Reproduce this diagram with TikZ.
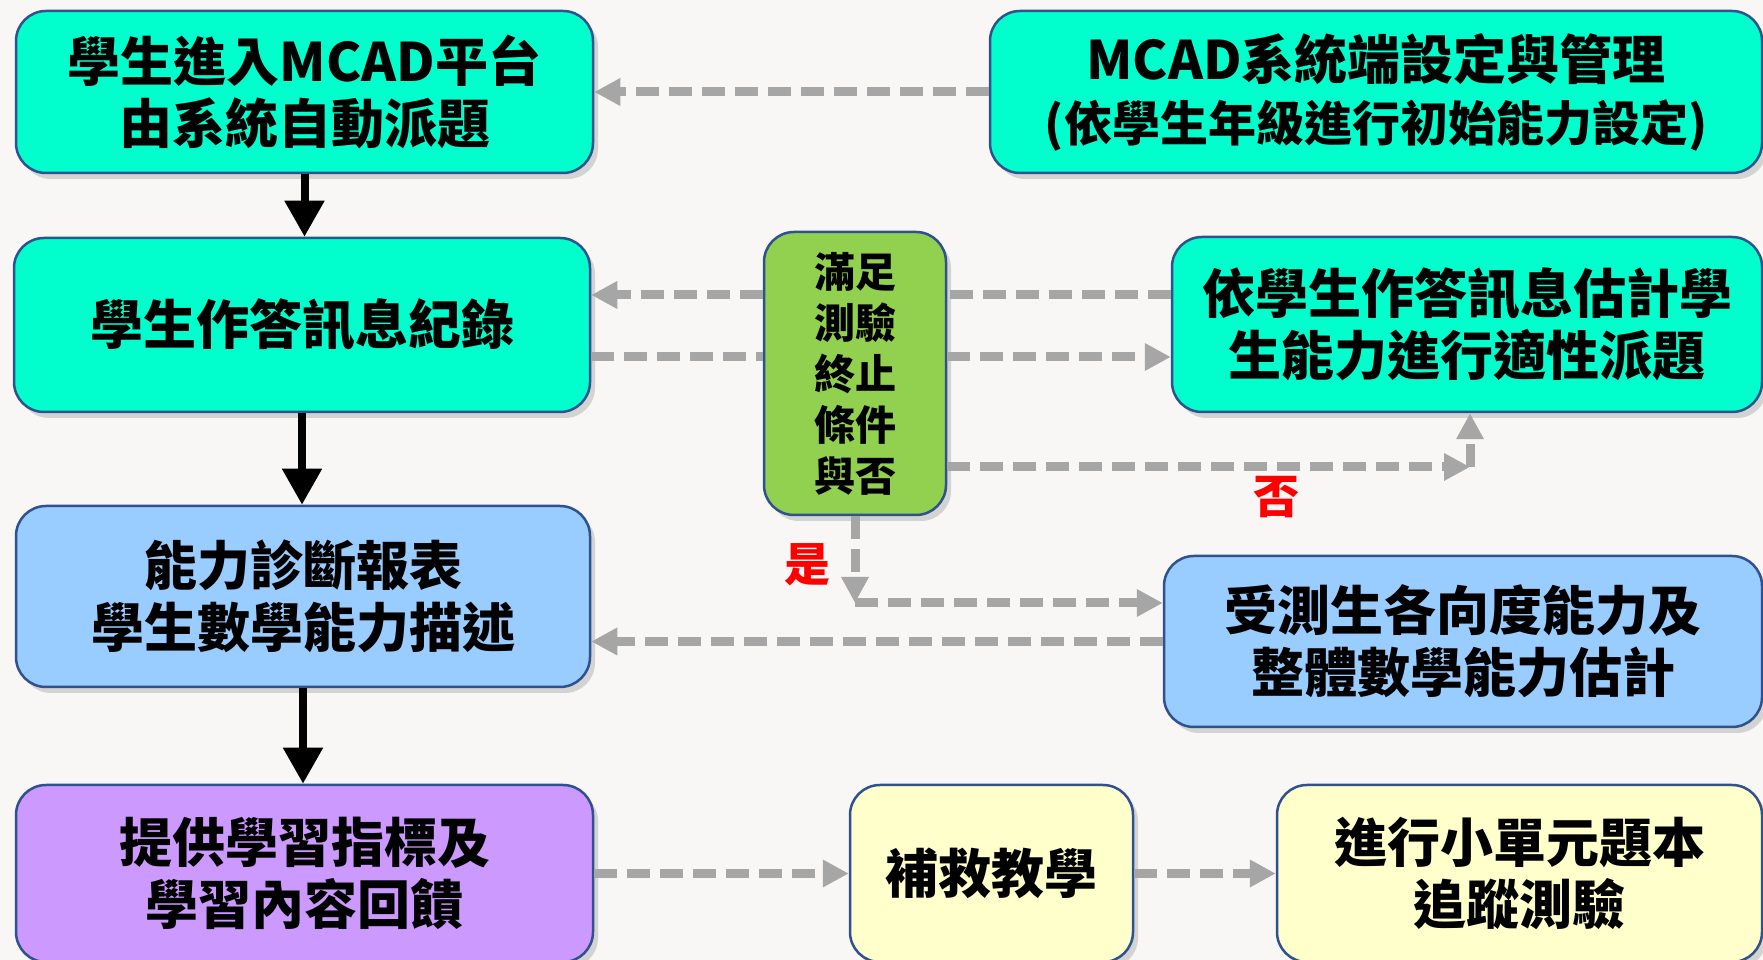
\documentclass[tikz,border=0pt]{standalone}
\usepackage{fontspec}
\setmainfont{Noto Sans CJK TC}
\usetikzlibrary{arrows.meta,shadows}
\definecolor{aqua}{HTML}{00FFCC}
\definecolor{leaf}{HTML}{92D050}
\definecolor{sky}{HTML}{99CCFF}
\definecolor{lilac}{HTML}{CC99FF}
\definecolor{cream}{HTML}{FFFFCC}
\definecolor{edge}{HTML}{2F528F}
\definecolor{dashgray}{HTML}{A6A6A6}
\definecolor{paper}{HTML}{F8F7F5}
\tikzset{
  box/.style={draw=edge, line width=2.5pt, rounded corners=30pt, align=center,
    inner sep=0pt, font=\bfseries\fontsize{53}{62}\selectfont,
    drop shadow={shadow xshift=5pt, shadow yshift=-6pt, opacity=0.3}},
  blk/.style={line width=8pt, -{Triangle[length=36pt,width=38pt]}},
  dsh/.style={dashgray, line width=9pt, dash pattern=on 23pt off 10pt},
  tip/.style={-{Triangle[length=26pt,width=26pt]}},
  lbl/.style={red, font=\bfseries\fontsize{46}{46}\selectfont}
}
\begin{document}
\begin{tikzpicture}[x=1pt,y=1pt]
    \useasboundingbox[fill=paper] (0,0) rectangle (1763,960);
    \node[box, fill=aqua, minimum width=577pt, minimum height=162pt] (A) at (304.5,868)
        {學生進入MCAD平台\\由系統自動派題};
    \node[box, fill=aqua, minimum width=772pt, minimum height=162pt] (B) at (1376,868)
        {MCAD系統端設定與管理\\{\fontsize{48}{62}\selectfont(依學生年級進行初始能力設定)}};
    \node[box, fill=aqua, minimum width=576pt, minimum height=174pt] (C) at (302,635)
        {學生作答訊息紀錄};
    \node[box, fill=leaf, minimum width=182pt, minimum height=283pt,
        font=\bfseries\fontsize{41}{51}\selectfont] (D) at (855,586.5)
        {滿足\\測驗\\終止\\條件\\與否};
    \node[box, fill=aqua, minimum width=590pt, minimum height=175pt] (E) at (1467,635.5)
        {依學生作答訊息估計學\\生能力進行適性派題};
    \node[box, fill=sky, minimum width=574pt, minimum height=181pt] (F) at (303,363.5)
        {能力診斷報表\\學生數學能力描述};
    \node[box, fill=sky, minimum width=598pt, minimum height=171pt] (G) at (1463,318.5)
        {受測生各向度能力及\\整體數學能力估計};
    \node[box, fill=lilac, minimum width=577pt, minimum height=177pt] (H) at (304.5,86.5)
        {提供學習指標及\\學習內容回饋};
    \node[box, fill=cream, minimum width=283pt, minimum height=177pt] (I) at (991.5,86.5)
        {補救教學};
    \node[box, fill=cream, minimum width=485pt, minimum height=177pt] (J) at (1519.5,86.5)
        {進行小單元題本\\追蹤測驗};
    % main flow
    \draw[blk] (A.south) -- (A.south |- C.north);
    \draw[blk] (C.south) -- (C.south |- F.north);
    \draw[blk] (F.south) -- (F.south |- H.north);
    % dashed links
    \coordinate (up) at (0,665);
    \coordinate (lo) at (0,603);
    \coordinate (no) at (1470,493);
    \coordinate (yes) at (855,357);
    \draw[dsh, tip] (B.west) -- (A.east);
    \draw[dsh] (E.west |- up) -- (D.east |- up);
    \draw[dsh, tip] (D.west |- up) -- (C.east |- up);
    \draw[dsh] (C.east |- lo) -- (D.west |- lo);
    \draw[dsh, tip] (D.east |- lo) -- (E.west |- lo);
    \draw[dsh, tip] (D.east |- no) -- (no);
    \draw[dsh, tip] (no) -- (no |- E.south);
    \draw[dsh, tip] (D.south) -- (yes);
    \draw[dsh, tip] (yes) -- (yes -| G.west);
    \draw[dsh, tip] (G.west) -- (G.west -| F.east);
    \draw[dsh, tip] (H.east) -- (I.west);
    \draw[dsh, tip] (I.east) -- (J.west);
    \node[lbl] (nolbl) at (1276,463) {否};
    \node[lbl] (yeslbl) at (807,395) {是};
\end{tikzpicture}
\end{document}
